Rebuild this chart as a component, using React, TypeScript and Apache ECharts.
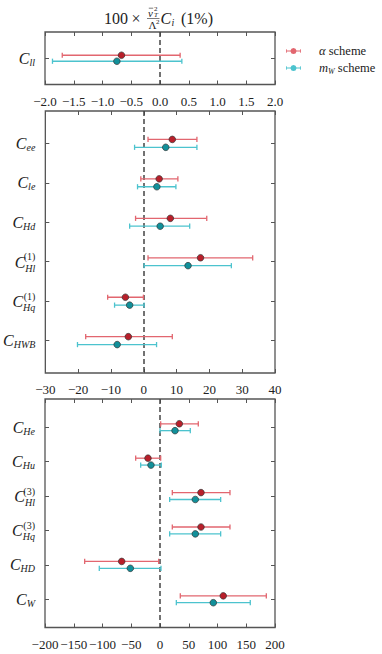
import React, { useEffect, useRef } from 'react';
import * as echarts from 'echarts';

const FONT = 'Liberation Serif, DejaVu Serif, serif';
const TEXT = '#222';
const FRAME = '#555';
const RED_LINE = '#e2666f';
const RED_DOT = '#b81f2a';
const TEAL_LINE = '#4cc3ce';
const TEAL_DOT = '#11909a';

const schemeNames = ['α scheme', 'm_W scheme'];

// Panel 1: C_ll
const p1Subs = ['ll'];
const p1Sups = [''];
const p1AlphaC = [-0.67];
const p1AlphaLo = [-1.7];
const p1AlphaHi = [0.35];
const p1MwC = [-0.75];
const p1MwLo = [-1.87];
const p1MwHi = [0.38];

// Panel 2
const p2Subs = ['ee', 'le', 'Hd', 'Hl', 'Hq', 'HWB'];
const p2Sups = ['', '', '', '(1)', '(1)', ''];
const p2AlphaC = [8.7, 4.7, 8.1, 17.3, -5.6, -4.7];
const p2AlphaLo = [1.3, -0.9, -2.5, 1.3, -11.0, -17.7];
const p2AlphaHi = [16.2, 10.4, 19.2, 33.2, -0.1, 8.7];
const p2MwC = [6.7, 4.0, 5.0, 13.5, -4.3, -8.1];
const p2MwLo = [-2.8, -1.9, -4.3, 0.1, -8.9, -20.2];
const p2MwHi = [16.2, 9.8, 14.0, 26.7, 0.1, 3.9];

// Panel 3
const p3Subs = ['He', 'Hu', 'Hl', 'Hq', 'HD', 'W'];
const p3Sups = ['', '', '(3)', '(3)', '', ''];
const p3AlphaC = [33.6, -20.9, 71.3, 71.3, -66.6, 110];
const p3AlphaLo = [1.2, -42.3, 21.4, 21.4, -131, 35.3];
const p3AlphaHi = [66.6, 1.2, 121.7, 121.7, -2.3, 184.9];
const p3MwC = [26.1, -15.7, 61.4, 61.4, -51.6, 92.7];
const p3MwLo = [0, -33.6, 16.8, 16.8, -105.6, 28.4];
const p3MwHi = [52.7, 2.3, 105.5, 105.5, 1.7, 157];

const xMins = [-2, -30, -200];
const xMaxs = [2, 40, 200];
const xIntervals = [0.5, 10, 50];
const xDecimals = [1, 0, 0];

const panels = [
  { top: 32, height: 52.5, yMin: -0.875, yMax: 0.875, subs: p1Subs, sups: p1Sups,
    a: [p1AlphaC, p1AlphaLo, p1AlphaHi], m: [p1MwC, p1MwLo, p1MwHi] },
  { top: 111, height: 262, yMin: -0.82, yMax: 5.82, subs: p2Subs, sups: p2Sups,
    a: [p2AlphaC, p2AlphaLo, p2AlphaHi], m: [p2MwC, p2MwLo, p2MwHi] },
  { top: 399, height: 228.5, yMin: -0.82, yMax: 5.82, subs: p3Subs, sups: p3Sups,
    a: [p3AlphaC, p3AlphaLo, p3AlphaHi], m: [p3MwC, p3MwLo, p3MwHi] },
];

const makeRender = (sign: number, lineColor: string, dotColor: string) => (params: any, api: any) => {
  const yi = api.value(0);
  const unit = api.size([0, 1])[1];
  const dy = sign * 0.1 * unit;
  const pc = api.coord([api.value(1), yi]);
  const pl = api.coord([api.value(2), yi]);
  const ph = api.coord([api.value(3), yi]);
  const y = pc[1] + dy;
  const cap = 2.6;
  const ls = { stroke: lineColor, lineWidth: 1.3 };
  return {
    type: 'group',
    children: [
      { type: 'line', shape: { x1: pl[0], y1: y, x2: ph[0], y2: y }, style: ls },
      { type: 'line', shape: { x1: pl[0], y1: y - cap, x2: pl[0], y2: y + cap }, style: ls },
      { type: 'line', shape: { x1: ph[0], y1: y - cap, x2: ph[0], y2: y + cap }, style: ls },
      { type: 'circle', shape: { cx: pc[0], cy: y, r: 3.3 }, style: { fill: dotColor, stroke: '#333', lineWidth: 0.7 } },
    ],
  };
};

const fmtNum = (v: number, d: number) => {
  const s = Math.abs(v).toFixed(d);
  return v < 0 ? '−' + s : s;
};

const legendIcon =
  'path://M0,2.5h1v1.9h5.045a4,4 0 0 1 7.91,0h5.045v-1.9h1v5h-1v-1.9h-5.045a4,4 0 0 1 -7.91,0h-5.045v1.9h-1z';

function buildOption() {
  const grid: any[] = [];
  const xAxis: any[] = [];
  const yAxis: any[] = [];
  const series: any[] = [];

  panels.forEach((p, i) => {
    grid.push({
      left: 45, width: 230, top: p.top, height: p.height,
      show: true, borderColor: FRAME, borderWidth: 1.3, backgroundColor: 'rgba(0,0,0,0)',
    });
    const tick = { show: true, inside: true, length: 4, lineStyle: { color: FRAME, width: 1 } };
    const xBase = {
      type: 'value', gridIndex: i, min: xMins[i], max: xMaxs[i], interval: xIntervals[i],
      axisLine: { show: false, onZero: false }, splitLine: { show: false }, axisTick: tick,
    };
    xAxis.push({
      ...xBase, position: 'bottom',
      axisLabel: {
        show: true, margin: 10, fontFamily: FONT, fontSize: 13, color: TEXT,
        showMinLabel: true, showMaxLabel: true,
        formatter: (v: number) => fmtNum(v, xDecimals[i]),
      },
    });
    xAxis.push({ ...xBase, position: 'top', axisLabel: { show: false } });
    const ticksY = p.subs.map((_, k) => k);
    const yBase = {
      type: 'value', gridIndex: i, min: p.yMin, max: p.yMax, inverse: true,
      axisLine: { show: false, onZero: false }, splitLine: { show: false },
      axisTick: { ...tick, customValues: ticksY },
    };
    yAxis.push({
      ...yBase, position: 'left',
      axisLabel: {
        show: true, margin: 10, customValues: ticksY, color: TEXT, fontFamily: FONT,
        formatter: (v: number) => {
          const k = Math.round(v);
          const sub = p.subs[k];
          const sup = p.sups[k];
          if (sup) return `{p|${sup}}\n{c|C}{t|${sub}}`;
          return `{c|C}{s|${sub}}`;
        },
        rich: {
          c: { fontFamily: FONT, fontStyle: 'italic', fontSize: 16, lineHeight: 16, color: TEXT },
          s: { fontFamily: FONT, fontStyle: 'italic', fontSize: 10, lineHeight: 16, padding: [8, 0, 0, 0], color: TEXT },
          t: { fontFamily: FONT, fontStyle: 'italic', fontSize: 10, lineHeight: 16, padding: [12, 0, 0, 0], color: TEXT },
          p: { fontFamily: FONT, fontSize: 10, lineHeight: 1, padding: [6, 0, 0, 0], color: TEXT },
        },
      },
    });
    yAxis.push({ ...yBase, position: 'right', axisLabel: { show: false } });

    const groups = [
      { vals: p.a, name: schemeNames[0], sign: -1, line: RED_LINE, dot: RED_DOT },
      { vals: p.m, name: schemeNames[1], sign: 1, line: TEAL_LINE, dot: TEAL_DOT },
    ];
    groups.forEach((g, gi) => {
      const [c, lo, hi] = g.vals;
      const s: any = {
        type: 'custom', name: g.name, xAxisIndex: 2 * i, yAxisIndex: 2 * i,
        itemStyle: { color: g.line },
        renderItem: makeRender(g.sign, g.line, g.dot),
        encode: { x: [1, 2, 3], y: 0 },
        data: c.map((v, k) => [k, v, lo[k], hi[k]]),
        z: 3,
      };
      if (gi === 0) {
        s.markLine = {
          silent: true, symbol: ['none', 'none'], label: { show: false },
          lineStyle: { type: [5, 3], color: '#444', width: 1.5 },
          data: [{ xAxis: 0 }], z: 2,
        };
      }
      series.push(s);
    });
  });

  const t = (x: number, y: number, text: string, size: number, italic = false, align = 'left') => ({
    type: 'text', x, y,
    style: {
      text, fontFamily: FONT, fontSize: size, fontStyle: italic ? 'italic' : 'normal', fill: TEXT,
      textAlign: align, textVerticalAlign: 'middle',
    },
  });

  const titleEls = [
    t(104, 18, '100', 16),
    t(136, 18, '×', 16, false, 'center'),
    t(148, 12.5, 'v', 11, true),
    { type: 'line', shape: { x1: 148.8, y1: 8.2, x2: 153.2, y2: 8.2 }, style: { stroke: TEXT, lineWidth: 0.6 } },
    t(154, 8.5, '2', 7),
    t(154, 15, 'T', 7, true),
    { type: 'line', shape: { x1: 147, y1: 18.5, x2: 159.5, y2: 18.5 }, style: { stroke: TEXT, lineWidth: 0.6 } },
    t(148.5, 25, 'Λ', 11),
    t(156, 21.5, '2', 7),
    t(160.5, 18, 'C', 16, true),
    t(171.5, 22, 'i', 10, true),
    t(181, 18, '(1%)', 16),
  ];

  return {
    animation: false,
    backgroundColor: '#fff',
    grid,
    xAxis,
    yAxis,
    series,
    graphic: titleEls.map((e) => ({ ...e, silent: true })),
    legend: {
      orient: 'vertical', left: 281, top: 39, itemWidth: 15, itemGap: 3, itemHeight: 6,
      selectedMode: false,
      data: [
        { name: schemeNames[0], icon: legendIcon, itemStyle: { color: RED_LINE } },
        { name: schemeNames[1], icon: legendIcon, itemStyle: { color: TEAL_LINE } },
      ],
      formatter: (name: string) => (name === schemeNames[0] ? '{g|α} scheme' : '{i|m}{w|W} scheme'),
      textStyle: {
        fontFamily: FONT, fontSize: 12.5, color: TEXT, lineHeight: 14,
        rich: {
          g: { fontFamily: FONT, fontStyle: 'italic', fontSize: 12.5, lineHeight: 14, padding: [0, 0, 0, 13], color: TEXT },
          i: { fontFamily: FONT, fontStyle: 'italic', fontSize: 12.5, lineHeight: 14, padding: [0, 0, 0, 13], color: TEXT },
          w: { fontFamily: FONT, fontStyle: 'italic', fontSize: 8, lineHeight: 14, padding: [6, 0, 0, 0], color: TEXT },
        },
      },
    },
  };
}

export default function App() {
  const ref = useRef<HTMLDivElement>(null);
  useEffect(() => {
    if (!ref.current) return;
    const chart = echarts.init(ref.current, null, { renderer: 'svg' });
    chart.setOption(buildOption() as any);
    return () => chart.dispose();
  }, []);
  return (
    <div
      ref={ref}
      style={{ position: 'fixed', left: 0, top: 0, width: 382, height: 654, background: '#fff' }}
    />
  );
}
